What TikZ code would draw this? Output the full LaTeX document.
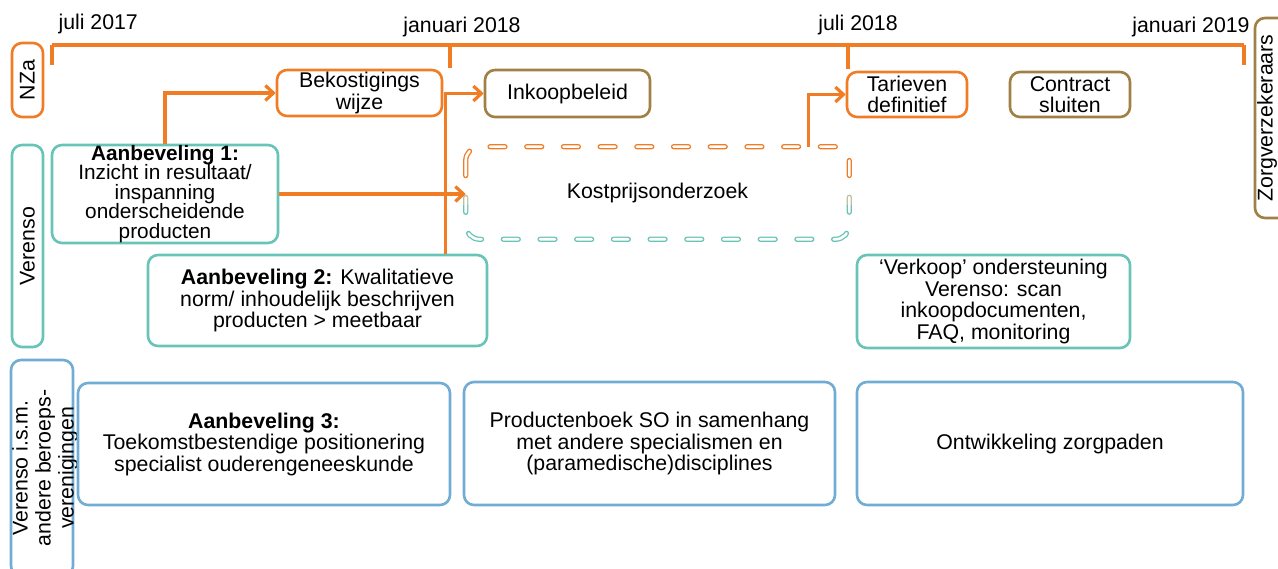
\documentclass[tikz,border=0pt]{standalone}
\usepackage{fontspec}
\setmainfont{Liberation Sans}
\usetikzlibrary{arrows.meta,positioning,calc}
\definecolor{nzaoranje}{RGB}{240,125,38}
\definecolor{verensogroen}{RGB}{104,196,182}
\definecolor{beroepsblauw}{RGB}{112,172,212}
\definecolor{zorgbruin}{RGB}{160,128,68}

\begin{document}
\begin{tikzpicture}[x=1pt,y=-1pt,
  font=\fontsize{21.3}{21.5}\selectfont,
  box/.style={rounded corners=10pt, line width=2.6pt, align=center, inner sep=0pt},
  nzabox/.style={box, draw=nzaoranje},
  verensobox/.style={box, draw=verensogroen},
  beroepsbox/.style={box, draw=beroepsblauw},
  zorgbox/.style={box, draw=zorgbruin},
  lane/.style={rotate=90},
  tijdlijn/.style={draw=nzaoranje, line width=4pt},
  pijl/.style={draw=nzaoranje, line width=3.2pt,
    -{Straight Barb[length=8pt,width=15pt]}},
  streep/.style={rounded corners=14pt, line width=1.3pt, double=white,
    double distance=2.6pt, line cap=round, dash pattern=on 15pt off 21.7pt}]
  \useasboundingbox (0,0) rectangle (1278,569);

  % tijdlijn
  \coordinate (t0) at (52,45);
  \coordinate (t1) at (450,45);
  \coordinate (t2) at (848,45);
  \coordinate (t3) at (1244,45);
  \draw[tijdlijn] (t0) -- (t3);
  \draw[tijdlijn] (t0) -- ++(0,20);
  \draw[tijdlijn] (t1) -- ++(0,23);
  \draw[tijdlijn] (t2) -- ++(0,24);
  \draw[tijdlijn] (t3) -- ++(0,20);
  \node (d0) [anchor=base west] at (55,30) {juli 2017};
  \node (d1) [anchor=base] at (462,33) {januari 2018};
  \node (d2) [anchor=base] at (858,31) {juli 2018};
  \node (d3) [anchor=base] at (1191,33) {januari 2019};

  % partijen
  \node (nza) [nzabox, lane, minimum width=74, minimum height=31] at (27.5,80) {NZa};
  \node (verenso) [verensobox, lane, minimum width=202, minimum height=31] at (27.5,246) {Verenso};
  \node (beroeps) [beroepsbox, lane, minimum width=216, minimum height=62] at (42,468) {};
  \node (beroepstekst) [lane, align=center, font=\fontsize{21.3}{23}\selectfont] at (45,468)
    {Verenso i.s.m.\\andere beroeps-\\verenigingen};
  \draw[zorgbox] (1255,18) rectangle (1310,218);
  \node (zorgverz) [lane] at (1267,118) {Zorgverzekeraars};

  % NZa en zorgverzekeraars
  \node (bekostiging) [nzabox, minimum width=165, minimum height=46] at (359.5,93)
    {Bekostigings\\wijze};
  \node (inkoop) [zorgbox, minimum width=165, minimum height=47] at (567.5,93.5) {Inkoopbeleid};
  \node (tarieven) [nzabox, minimum width=120, minimum height=45] at (907,94.5)
    {Tarieven\\definitief};
  \node (contract) [zorgbox, minimum width=120, minimum height=45] at (1070,94.5)
    {Contract\\sluiten};

  % Verenso
  \node (aanb1) [verensobox, minimum width=226, minimum height=98,
    font=\fontsize{20.8}{19.6}\selectfont] at (165,194)
    {\textbf{Aanbeveling 1:}\\Inzicht in resultaat/\\inspanning\\onderscheidende\\producten};
  \node (kostprijs) [box, minimum width=381, minimum height=90] at (657.5,193) {Kostprijsonderzoek};
  \node (aanb2) [verensobox, minimum width=339, minimum height=91] at (317.5,300.5)
    {\textbf{Aanbeveling 2:} Kwalitatieve\\norm/ inhoudelijk beschrijven\\producten > meetbaar};
  \node (verkoop) [verensobox, minimum width=273, minimum height=93] at (993.5,301.5)
    {‘Verkoop’ ondersteuning\\Verenso: scan\\inkoopdocumenten,\\FAQ, monitoring};

  % gestreepte rand van het kostprijsonderzoek
  \begin{scope}
    \clip (440,130) rectangle (870,180);
    \draw[streep, nzaoranje] (kostprijs.north west) rectangle (kostprijs.south east);
  \end{scope}
  \begin{scope}
    \clip (440,180) rectangle (870,206);
    \draw[streep, nzaoranje!45!verensogroen!70] (kostprijs.north west) rectangle (kostprijs.south east);
  \end{scope}
  \begin{scope}
    \clip (440,206) rectangle (870,260);
    \draw[streep, verensogroen] (kostprijs.north west) rectangle (kostprijs.south east);
  \end{scope}

  % beroepsverenigingen
  \node (aanb3) [beroepsbox, minimum width=372, minimum height=122] at (264,444)
    {\textbf{Aanbeveling 3:}\\Toekomstbestendige positionering\\specialist ouderengeneeskunde};
  \node (productenboek) [beroepsbox, minimum width=371, minimum height=123] at (649.5,443.5)
    {Productenboek SO in samenhang\\met andere specialismen en\\(paramedische)disciplines};
  \node (zorgpaden) [beroepsbox, minimum width=386, minimum height=123] at (1050,443.5)
    {Ontwikkeling zorgpaden};

  % verbanden
  \draw[pijl] (aanb1.north) |- (bekostiging.west);
  \draw[pijl] (aanb1.east) -- (aanb1.east -| kostprijs.west);
  \draw[pijl] ([xshift=-43pt]aanb2.north east) |- (inkoop.west);
  \draw[pijl] ([xshift=-41pt]kostprijs.north east) |- (tarieven.west);
\end{tikzpicture}
\end{document}
